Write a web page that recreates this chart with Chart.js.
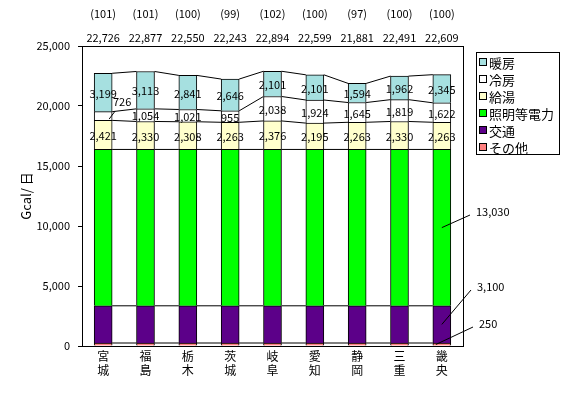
<!DOCTYPE html>
<html>
<head>
<meta charset="utf-8">
<script src="https://cdn.jsdelivr.net/npm/chart.js"></script>
<style>
  body { margin: 0; background: #fff; }
  #wrap { width: 562px; height: 393px; }
</style>
</head>
<body>
<div id="wrap"><canvas id="chart" width="562" height="393"></canvas></div>
<script>
// 地域
const regions = [['宮','城'], ['福','島'], ['栃','木'], ['茨','城'], ['岐','阜'], ['愛','知'], ['静','岡'], ['三','重'], ['畿','央']];

// Gcal/日 (下から積み上げ)
const sonota   = [250, 250, 250, 250, 250, 250, 250, 250, 250];
const koutsuu  = [3100, 3100, 3100, 3100, 3100, 3100, 3100, 3100, 3100];
const shoumei  = [13030, 13030, 13030, 13030, 13030, 13030, 13030, 13030, 13030];
const kyuutou  = [2421, 2330, 2308, 2263, 2376, 2195, 2263, 2330, 2263];
const reibou   = [726, 1054, 1021, 955, 2038, 1924, 1645, 1819, 1622];
const danbou   = [3199, 3113, 2841, 2646, 2101, 2101, 1594, 1962, 2345];

const totals   = [22726, 22877, 22550, 22243, 22894, 22599, 21881, 22491, 22609];
const indexes  = [101, 101, 100, 99, 102, 100, 97, 100, 100];

const yTicks = [0, 5000, 10000, 15000, 20000, 25000];

const FONT = '"Noto Sans CJK JP", "DejaVu Sans", sans-serif';
const fmt = v => v.toLocaleString('en-US');

const colors = {
  sonota: '#FF8080',
  koutsuu: '#5C0089',
  shoumei: '#00FF00',
  kyuutou: '#FFFFCC',
  reibou: '#FFFFFF',
  danbou: '#A6E0E0'
};

const datasets = [
  { label: 'その他', data: sonota, backgroundColor: colors.sonota },
  { label: '交通', data: koutsuu, backgroundColor: colors.koutsuu },
  { label: '照明等電力', data: shoumei, backgroundColor: colors.shoumei },
  { label: '給湯', data: kyuutou, backgroundColor: colors.kyuutou },
  { label: '冷房', data: reibou, backgroundColor: colors.reibou },
  { label: '暖房', data: danbou, backgroundColor: colors.danbou }
].map(d => Object.assign(d, { borderColor: '#000', borderWidth: 1, barThickness: 18 }));

// 系列線・ラベル・凡例など
const extras = {
  id: 'extras',
  afterDatasetsDraw(chart) {
    const ctx = chart.ctx;
    const area = chart.chartArea;
    const n = regions.length;

    // 系列線
    ctx.save();
    ctx.strokeStyle = '#000';
    ctx.lineWidth = 1;
    chart.data.datasets.forEach((ds, di) => {
      const meta = chart.getDatasetMeta(di);
      for (let i = 0; i < n - 1; i++) {
        const a = meta.data[i], b = meta.data[i + 1];
        ctx.beginPath();
        ctx.moveTo(a.x + a.width / 2, a.y);
        ctx.lineTo(b.x - b.width / 2, b.y);
        ctx.stroke();
      }
    });

    // 枠
    ctx.strokeRect(area.left + 0.5, area.top + 0.5, area.right - area.left, area.bottom - area.top);

    // 暖房・冷房・給湯の値
    ctx.fillStyle = '#000';
    ctx.font = '11px ' + FONT;
    ctx.textAlign = 'center';
    ctx.textBaseline = 'middle';
    [3, 4, 5].forEach(di => {
      const meta = chart.getDatasetMeta(di);
      const vals = chart.data.datasets[di].data;
      meta.data.forEach((bar, i) => {
        const cy = (bar.y + bar.base) / 2;
        if (di === 4 && i === 0) {
          ctx.fillText(fmt(vals[i]), bar.x + 19, cy - 14);
          ctx.beginPath();
          ctx.moveTo(bar.x + 6, cy + 3);
          ctx.lineTo(bar.x + 12, cy - 5);
          ctx.stroke();
        } else {
          ctx.fillText(fmt(vals[i]), bar.x, cy + 1);
        }
      });
    });

    // 合計と指数
    const top = chart.getDatasetMeta(5);
    top.data.forEach((bar, i) => {
      ctx.fillText(fmt(totals[i]), bar.x, 38);
      ctx.fillText('(' + indexes[i] + ')', bar.x, 14);
    });

    // 右側の引出線ラベル
    const last = n - 1;
    const bx = top.data[last].x;
    const notes = [
      { di: 2, lx: 470, ly: 215 },
      { di: 1, lx: 471, ly: 290 },
      { di: 0, lx: 473, ly: 327 }
    ];
    ctx.textAlign = 'left';
    notes.forEach(nt => {
      const bar = chart.getDatasetMeta(nt.di).data[last];
      let sy = (bar.y + bar.base) / 2;
      let sx = bx;
      if (nt.di === 0) { sx = bx - 6; sy = bar.base - 1; }
      ctx.beginPath();
      ctx.moveTo(sx, sy);
      ctx.lineTo(nt.lx, nt.ly);
      ctx.stroke();
      ctx.fillText(fmt(chart.data.datasets[nt.di].data[last]), nt.lx + 6, nt.ly - 3);
    });

    // 縦軸タイトル
    ctx.save();
    ctx.translate(26, 196);
    ctx.rotate(-Math.PI / 2);
    ctx.textAlign = 'center';
    ctx.font = '13px ' + FONT;
    ctx.fillText('Gcal/ 日', 0, 0);
    ctx.restore();

    // 凡例
    const lx = 476, ly = 52, lw = 83, lh = 102;
    ctx.strokeRect(lx + 0.5, ly + 0.5, lw, lh);
    ctx.font = '13px ' + FONT;
    ctx.textAlign = 'left';
    for (let k = 0; k < 6; k++) {
      const di = 5 - k;
      const ds = chart.data.datasets[di];
      const cy = ly + 10 + k * 17;
      ctx.fillStyle = ds.backgroundColor;
      ctx.fillRect(lx + 3.5, cy - 3.5, 7, 7);
      ctx.strokeRect(lx + 3.5, cy - 3.5, 7, 7);
      ctx.fillStyle = '#000';
      ctx.fillText(ds.label, lx + 13, cy + 1);
    }
    ctx.restore();
  }
};

new Chart(document.getElementById('chart'), {
  type: 'bar',
  data: { labels: regions, datasets: datasets },
  options: {
    responsive: false,
    animation: false,
    layout: { padding: { top: 46, right: 99, left: 0, bottom: 0 } },
    plugins: {
      legend: { display: false },
      tooltip: { enabled: false },
      title: { display: false }
    },
    scales: {
      x: {
        stacked: true,
        grid: { display: false, drawTicks: false },
        border: { color: '#000' },
        ticks: { color: '#000', font: { family: FONT, size: 12 }, padding: 3, maxRotation: 0, autoSkip: false },
        afterFit(scale) { scale.height = 47; }
      },
      y: {
        stacked: true,
        min: 0,
        max: 25000,
        afterBuildTicks(scale) { scale.ticks = yTicks.map(v => ({ value: v })); },
        grid: { drawOnChartArea: false, tickLength: 4, color: '#000' },
        border: { color: '#000' },
        ticks: { color: '#000', font: { family: FONT, size: 11 }, padding: 8, callback: v => fmt(v) },
        afterFit(scale) { scale.width = 82; }
      }
    }
  },
  plugins: [extras]
});
</script>
</body>
</html>
